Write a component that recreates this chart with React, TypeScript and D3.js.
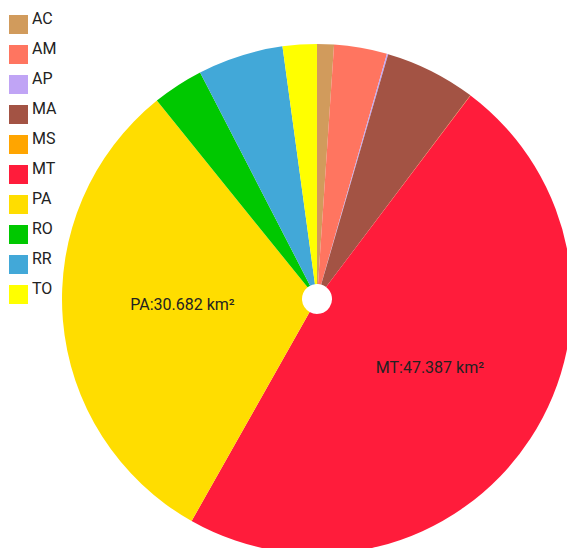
import * as d3 from 'd3';
import React, { useEffect, useRef } from 'react';

// área por estado (km²)
const states = ['AC', 'AM', 'AP', 'MA', 'MS', 'MT', 'PA', 'RO', 'RR', 'TO'];
const areas = [1055, 3320, 80, 5710, 10, 47387, 30682, 3190, 5360, 2140];
const colors = ['#d19b5c', '#ff7560', '#c0a4f5', '#a35344', '#ffa500', '#ff1c3b', '#ffdd00', '#00c800', '#42a8d8', '#ffff00'];
const labelled = ['MT', 'PA'];

function App() {
  const svgRef = useRef<SVGSVGElement>(null);

  useEffect(() => {
    const width = 567;
    const height = 548;
    const cx = 317;
    const cy = 299;
    const outer = 255;
    const inner = 15;

    const svg = d3.select(svgRef.current)
      .attr('width', width)
      .attr('height', height);
    svg.selectAll('*').remove();

    const data = states.map((s, i) => ({ state: s, value: areas[i] }));
    const color = d3.scaleOrdinal<string, string>().domain(states).range(colors);

    const pie = d3.pie<{ state: string; value: number }>()
      .value(d => d.value)
      .sort(null);
    const arc = d3.arc<d3.PieArcDatum<{ state: string; value: number }>>()
      .innerRadius(inner)
      .outerRadius(outer);

    const g = svg.append('g').attr('transform', `translate(${cx},${cy})`);
    const arcs = pie(data);

    g.selectAll('path')
      .data(arcs)
      .enter()
      .append('path')
      .attr('d', arc)
      .attr('fill', d => color(d.data.state));

    const fmt = d3.formatLocale({ decimal: ',', thousands: '.', grouping: [3], currency: ['R$', ''] }).format(',d');

    g.selectAll('text.lbl')
      .data(arcs.filter(d => labelled.includes(d.data.state)))
      .enter()
      .append('text')
      .attr('class', 'lbl')
      .attr('transform', d => `translate(${arc.centroid(d)})`)
      .attr('text-anchor', 'middle')
      .style('font-family', 'Roboto, sans-serif')
      .style('font-size', '16px')
      .attr('fill', '#222')
      .text(d => `${d.data.state}:${fmt(d.data.value)} km²`);

    // legenda
    const legend = svg.append('g').attr('transform', 'translate(9,15)');
    const item = legend.selectAll('g')
      .data(states)
      .enter()
      .append('g')
      .attr('transform', (d, i) => `translate(0,${i * 30})`);
    item.append('rect')
      .attr('width', 19)
      .attr('height', 19)
      .attr('fill', d => color(d));
    item.append('text')
      .attr('x', 23)
      .attr('y', 8.5)
      .style('font-family', 'Roboto, sans-serif')
      .style('font-size', '16px')
      .attr('fill', '#222')
      .text(d => d);
  }, []);

  return <svg ref={svgRef} style={{ position: 'absolute', left: 0, top: 0 }} />;
}

export default App;
